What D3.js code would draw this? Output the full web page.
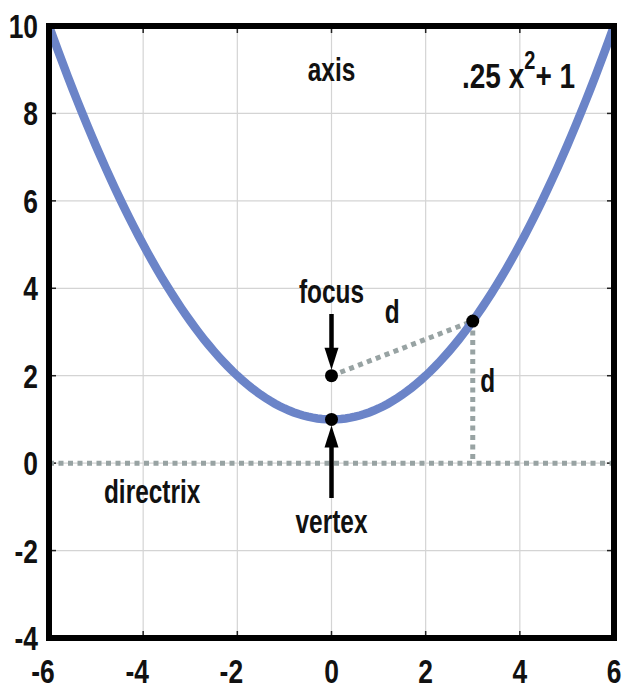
<!DOCTYPE html>
<html><head><meta charset="utf-8">
<script src="https://cdn.jsdelivr.net/npm/d3@7"></script>
<style>body{margin:0;background:#fff}svg{display:block}text{font-family:"Liberation Sans",Arial,sans-serif;font-weight:bold;fill:#111}</style>
</head><body><div id="chart"></div>
<script>
const xTicks = [-6,-4,-2,0,2,4,6];
const yTicks = [-4,-2,0,2,4,6,8,10];
const xDomain = [-6,6];
const yDomain = [-4,10];
const coefA = 0.25, coefC = 1;
const curveX = d3.range(-6, 6.0001, 0.1);
const curveY = curveX.map(x => coefA*x*x + coefC);
const vertex = {x:0, y:1};
const focus = {x:0, y:2};
const pointP = {x:3, y:3.25};
const directrixY = 0;
const labels = [
  {t:"axis", x:0, y:8.75},
  {t:"focus", x:0, y:3.66},
  {t:"d", x:1.29, y:3.21},
  {t:"d", x:3.32, y:1.63},
  {t:"directrix", x:-3.81, y:-0.91},
  {t:"vertex", x:0, y:-1.6}
];

const W=622,H=689;
const L=49,R=614,T=26,B=638;
const x=d3.scaleLinear().domain(xDomain).range([L,R]);
const y=d3.scaleLinear().domain(yDomain).range([B,T]);
const svg=d3.select("#chart").append("svg").attr("width",W).attr("height",H);
svg.append("defs").append("clipPath").attr("id","clip").append("rect").attr("x",L).attr("y",T).attr("width",R-L).attr("height",B-T);

// grid
svg.append("g").selectAll("line").data(xTicks.slice(1,-1)).join("line")
  .attr("x1",d=>x(d)).attr("x2",d=>x(d)).attr("y1",T).attr("y2",B)
  .attr("stroke","#d4d4d4").attr("stroke-width",1.2);
svg.append("g").selectAll("line").data(yTicks.slice(1,-1)).join("line")
  .attr("y1",d=>y(d)).attr("y2",d=>y(d)).attr("x1",L).attr("x2",R)
  .attr("stroke","#d4d4d4").attr("stroke-width",1.2);
// inner ticks
const tk=svg.append("g").attr("stroke","#222").attr("stroke-width",1.5);
xTicks.slice(1,-1).forEach(v=>{
  tk.append("line").attr("x1",x(v)).attr("x2",x(v)).attr("y1",T).attr("y2",T+7);
  tk.append("line").attr("x1",x(v)).attr("x2",x(v)).attr("y1",B).attr("y2",B-7);
});
yTicks.slice(1,-1).forEach(v=>{
  tk.append("line").attr("y1",y(v)).attr("y2",y(v)).attr("x1",L).attr("x2",L+7);
  tk.append("line").attr("y1",y(v)).attr("y2",y(v)).attr("x1",R).attr("x2",R-7);
});

const dot={stroke:"#98a3a3","stroke-width":5,"stroke-dasharray":"5,4.5"};
function dl(x1,y1,x2,y2){
  const l=svg.append("line").attr("x1",x(x1)).attr("y1",y(y1)).attr("x2",x(x2)).attr("y2",y(y2)).attr("clip-path","url(#clip)");
  for(const k in dot) l.attr(k,dot[k]);
}
dl(-6,directrixY,6,directrixY);
dl(focus.x,focus.y,pointP.x,pointP.y);
dl(pointP.x,pointP.y,pointP.x,directrixY);

// curve
svg.append("path").datum(curveX.map((v,i)=>[v,curveY[i]]))
  .attr("d",d3.line().x(d=>x(d[0])).y(d=>y(d[1])))
  .attr("fill","none").attr("stroke","#6b84c8").attr("stroke-width",8.5)
  .attr("clip-path","url(#clip)");

// arrows
function arrow(xv, y0px, tipPx){
  const dir = tipPx>y0px?1:-1;
  const cx=x(xv), hl=22, hw=7;
  svg.append("line").attr("x1",cx).attr("x2",cx).attr("y1",y0px).attr("y2",tipPx-dir*hl+dir*2)
    .attr("stroke","#000").attr("stroke-width",4.5);
  svg.append("path").attr("d",`M${cx-hw},${tipPx-dir*hl} L${cx+hw},${tipPx-dir*hl} L${cx},${tipPx} Z`).attr("fill","#000");
}
arrow(focus.x, 314, y(focus.y)-6);
arrow(vertex.x, 498, y(vertex.y)+6);

// points
svg.append("g").selectAll("circle").data([vertex,focus,pointP]).join("circle")
  .attr("cx",d=>x(d.x)).attr("cy",d=>y(d.y)).attr("r",6.5).attr("fill","#000");

// border
svg.append("rect").attr("x",L).attr("y",T).attr("width",R-L).attr("height",B-T)
  .attr("fill","none").attr("stroke","#000").attr("stroke-width",6);

function txt(s,px,py,size,anchor,sx){
  const g=svg.append("g").attr("transform",`translate(${px},${py}) scale(${sx},1)`);
  return g.append("text").attr("text-anchor",anchor||"middle").attr("font-size",size).text(s);
}
yTicks.forEach(v=>txt(String(v),38,y(v)+12,33,"end",0.8));
xTicks.forEach(v=>txt(String(v),x(v)-(v<0?6:0),683,33,"middle",0.8));
labels.forEach(d=>txt(d.t,x(d.x),y(d.y),33,"middle",0.74));

// formula
const fg=svg.append("g").attr("transform",`translate(462,88) scale(0.8,1)`);
const ft=fg.append("text").attr("font-size",35).attr("text-anchor","start");
ft.append("tspan").text(".25 x");
ft.append("tspan").attr("font-size",25).attr("dy",-19).text("2");
ft.append("tspan").attr("dy",19).text("+ 1");
</script></body></html>
